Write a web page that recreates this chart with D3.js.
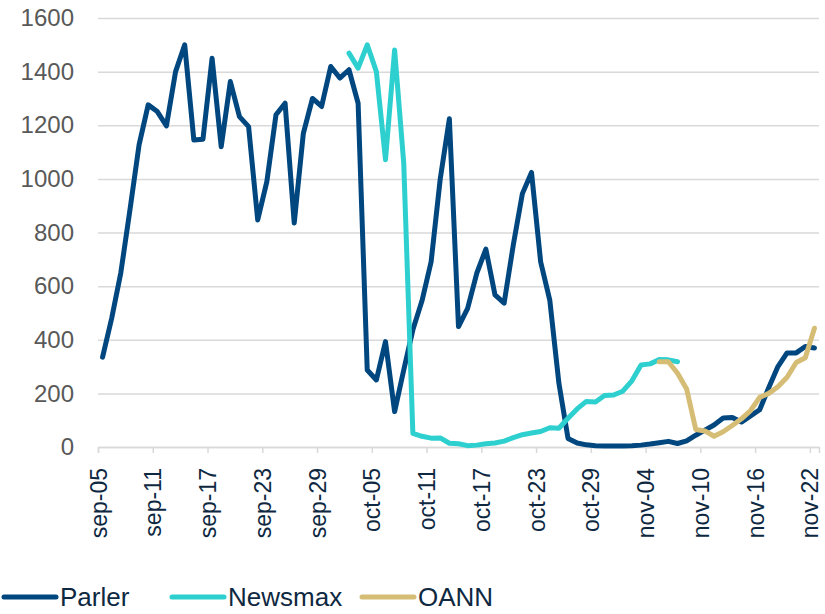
<!DOCTYPE html>
<html>
<head>
<meta charset="utf-8">
<script src="https://cdn.jsdelivr.net/npm/d3@7"></script>
<style>
  body { margin: 0; background: #fff; }
  svg { display: block; font-family: "Liberation Sans", Arial, sans-serif; }
</style>
</head>
<body>
<svg id="chart" width="825" height="614"></svg>
<script>
// daily values, first date of each series given separately
const parlerStart = "2020-09-05";
const parler = [
  335, 480, 650, 884, 1127, 1276, 1251, 1198, 1400, 1500,
  1145, 1148, 1450, 1120, 1363, 1232, 1195, 847, 990, 1239,
  1282, 835, 1170, 1300, 1270, 1419, 1376, 1407, 1282, 287,
  250, 393, 132, 287, 437, 545, 691, 1000, 1224, 449,
  517, 648, 738, 567, 537, 753, 945, 1024, 691, 548,
  238, 32, 15, 8, 5, 4, 4, 4, 5, 7,
  11, 16, 21, 13, 23, 44, 63, 82, 108, 110,
  93, 116, 139, 222, 300, 351, 351, 375, 369
];
const newsmaxStart = "2020-10-02";
const newsmax = [
  1469, 1413, 1500, 1400, 1071, 1481, 1058, 51, 40, 33,
  34, 14, 12, 5, 7, 12, 15, 22, 35, 46,
  52, 58, 72, 70, 107, 142, 170, 168, 192, 194,
  208, 247, 306, 310, 326, 325, 318
];
const oannStart = "2020-11-05";
const oann = [
  318, 318, 275, 216, 65, 60, 40, 57, 80, 105,
  136, 185, 200, 225, 260, 315, 333, 443
];
const seriesNames = ["Parler", "Newsmax", "OANN"];
const seriesColors = ["#00467f", "#2ecfcf", "#d6bd76"];
const tickLabels = ["sep-05", "sep-11", "sep-17", "sep-23", "sep-29", "oct-05", "oct-11",
  "oct-17", "oct-23", "oct-29", "nov-04", "nov-10", "nov-16", "nov-22"];
const yTicks = [0, 200, 400, 600, 800, 1000, 1200, 1400, 1600];

const monthIdx = { sep: 8, oct: 9, nov: 10 };
const labelDate = (s) => new Date(2020, monthIdx[s.slice(0, 3)], +s.slice(4));
const parseDay = d3.timeParse("%Y-%m-%d");

function toPoints(start, values) {
  const d0 = parseDay(start);
  return values.map((v, i) => ({ date: d3.timeDay.offset(d0, i), value: v }));
}

const series = [
  toPoints(parlerStart, parler),
  toPoints(newsmaxStart, newsmax),
  toPoints(oannStart, oann)
];

const plotLeft = 98, plotRight = 819, plotTop = 18, plotBottom = 447;
const font = "'Liberation Sans', Arial, sans-serif";

const x = d3.scaleTime()
  .domain([labelDate(tickLabels[0]), d3.timeDay.offset(labelDate(tickLabels[tickLabels.length - 1]), 1)])
  .range([plotLeft, plotRight]);
const y = d3.scaleLinear().domain([0, 1600]).range([plotBottom, plotTop]);

// points sit in the middle of each day slot
const xMid = (d) => x(d3.timeHour.offset(d, 12));

const svg = d3.select("#chart");

// grid + y labels
const yAxis = svg.append("g")
  .attr("transform", `translate(${plotLeft},0)`)
  .call(d3.axisLeft(y).tickValues(yTicks).tickSize(-(plotRight - plotLeft)).tickPadding(24).tickFormat(d3.format("d")));
yAxis.select(".domain").remove();
yAxis.selectAll(".tick line").attr("stroke", "#d9d9d9").attr("stroke-width", 1.5);
yAxis.selectAll(".tick text")
  .attr("fill", "#595959")
  .attr("font-size", 24)
  .attr("font-family", font);

// x axis
const xAxis = svg.append("g")
  .attr("transform", `translate(0,${plotBottom})`)
  .call(d3.axisBottom(x).tickValues(tickLabels.map(labelDate)).tickSize(6)
    .tickFormat((d, i) => tickLabels[i]));
xAxis.select(".domain").attr("stroke", "#d9d9d9").attr("stroke-width", 1.5);
xAxis.selectAll(".tick line").attr("stroke", "#d9d9d9").attr("stroke-width", 1.5);
xAxis.selectAll(".tick text")
  .attr("fill", "#0e2841")
  .attr("font-size", 23)
  .attr("font-family", font)
  .attr("transform", "rotate(-90)")
  .attr("x", -21)
  .attr("y", 0)
  .attr("dy", "0.35em")
  .attr("text-anchor", "end");

// lines
const line = d3.line().x((d) => xMid(d.date)).y((d) => y(d.value));
svg.append("g")
  .selectAll("path")
  .data(series)
  .join("path")
  .attr("fill", "none")
  .attr("stroke", (d, i) => seriesColors[i])
  .attr("stroke-width", 5)
  .attr("stroke-linejoin", "round")
  .attr("stroke-linecap", "round")
  .attr("d", line);

// legend
const legendX = [4, 172, 362];
const legend = svg.append("g").attr("transform", "translate(0,597)");
const item = legend.selectAll("g")
  .data(seriesNames)
  .join("g")
  .attr("transform", (d, i) => `translate(${legendX[i]},0)`);
item.append("line")
  .attr("x1", 0).attr("x2", 52)
  .attr("stroke", (d, i) => seriesColors[i])
  .attr("stroke-width", 5)
  .attr("stroke-linecap", "round");
item.append("text")
  .attr("x", 56)
  .attr("dy", "0.35em")
  .attr("fill", "#0e2841")
  .attr("font-size", 26)
  .attr("font-family", font)
  .text((d) => d);
</script>
</body>
</html>
